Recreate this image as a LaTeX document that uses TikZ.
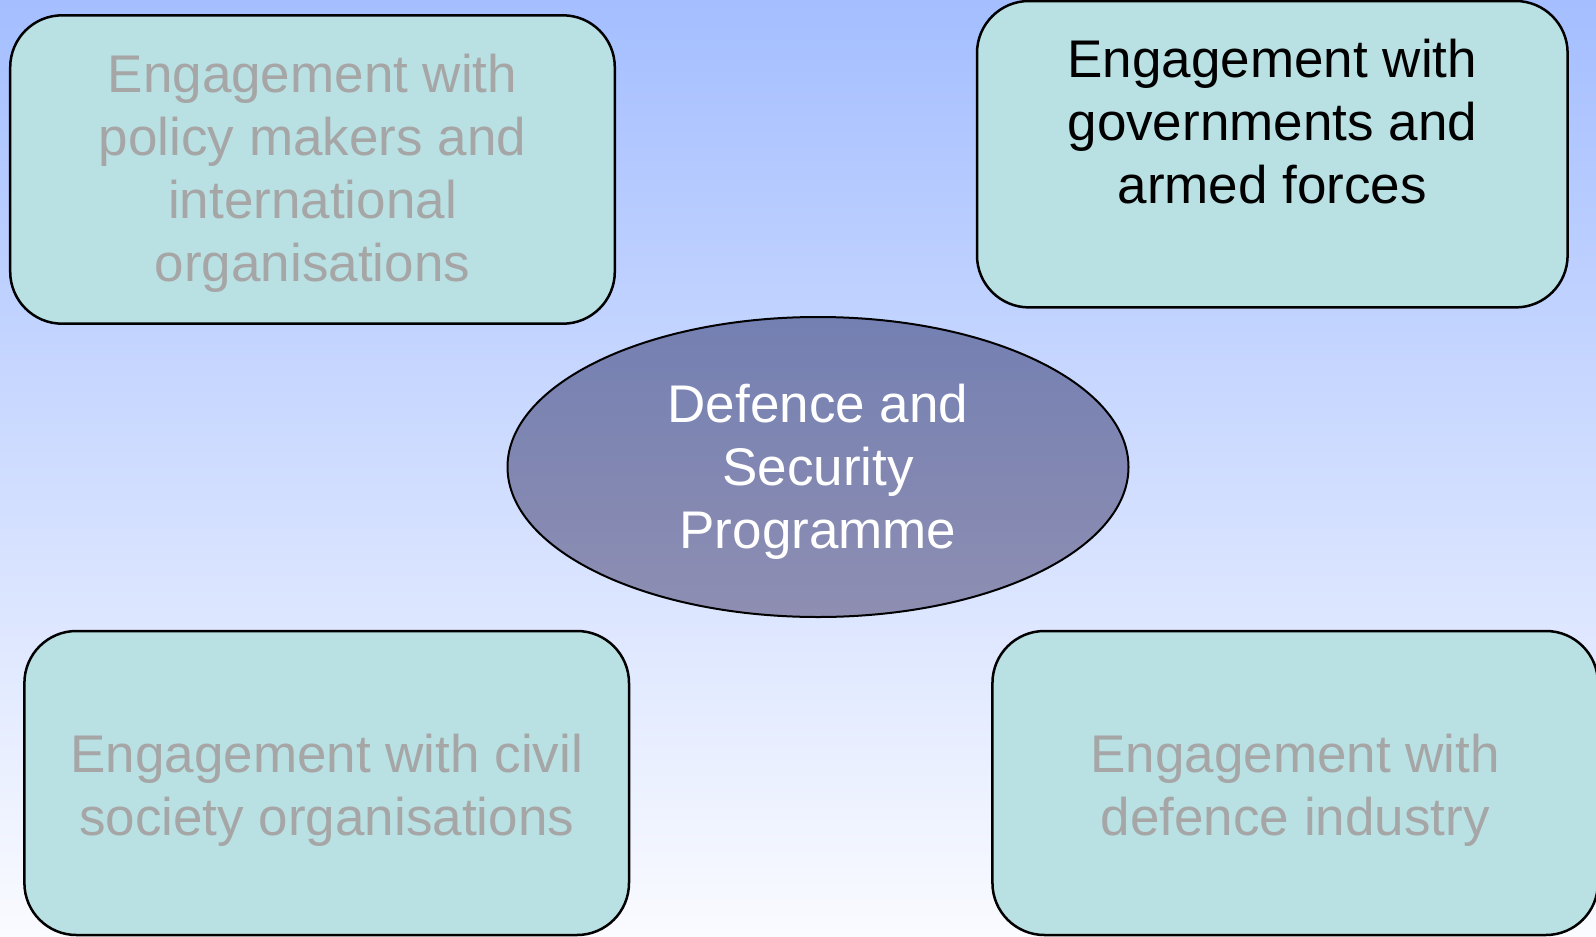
\documentclass[tikz,border=0pt]{standalone}
\usepackage{fontspec}
\setmainfont{Liberation Sans}
\usetikzlibrary{shapes.geometric}
\definecolor{bgtop}{RGB}{164,190,255}
\definecolor{bgbot}{RGB}{250,251,255}
\definecolor{boxfill}{RGB}{185,224,227}
\definecolor{greytext}{RGB}{166,166,166}
\definecolor{elltop}{RGB}{116,128,178}
\definecolor{ellbot}{RGB}{142,142,178}
\begin{document}
\begin{tikzpicture}[x=1pt,y=-1pt,
  boxstyle/.style={draw=black, line width=2.5pt, fill=boxfill, rounded corners=52pt, inner sep=0pt},
  labelstyle/.style={align=center, font=\fontsize{53}{63}\selectfont, inner sep=0pt},
]
\shade[top color=bgtop, bottom color=bgbot] (0,0) rectangle (1596,937);
\useasboundingbox (0,0) rectangle (1596,937);

\node[boxstyle, minimum width=604.6pt, minimum height=308.4pt] (tl) at (312.5,169.5) {};
\node[labelstyle, text=greytext] (tltext) at (312.5,173) {Engagement with\\policy makers and\\international\\organisations};

\node[boxstyle, minimum width=590.6pt, minimum height=306.4pt] (tr) at (1272.3,154.2) {};
\node[labelstyle, text=black] (trtext) at (1272.3,122) {Engagement with\\governments and\\armed forces};

\node[boxstyle, minimum width=604.6pt, minimum height=304pt] (bl) at (326.7,783) {};
\node[labelstyle, text=greytext] (bltext) at (326.7,790) {Engagement with civil\\society organisations};

\node[boxstyle, minimum width=605.5pt, minimum height=304pt] (br) at (1295.2,783) {};
\node[labelstyle, text=greytext] (brtext) at (1295.2,790) {Engagement with\\defence industry};

\node[ellipse, draw=black, line width=2pt, top color=elltop, bottom color=ellbot, minimum width=621pt, minimum height=300pt, inner sep=0pt] (dsp) at (818,467) {};
\node[labelstyle, text=white] (dsptext) at (818,472) {Defence and\\Security\\Programme};
\end{tikzpicture}
\end{document}
